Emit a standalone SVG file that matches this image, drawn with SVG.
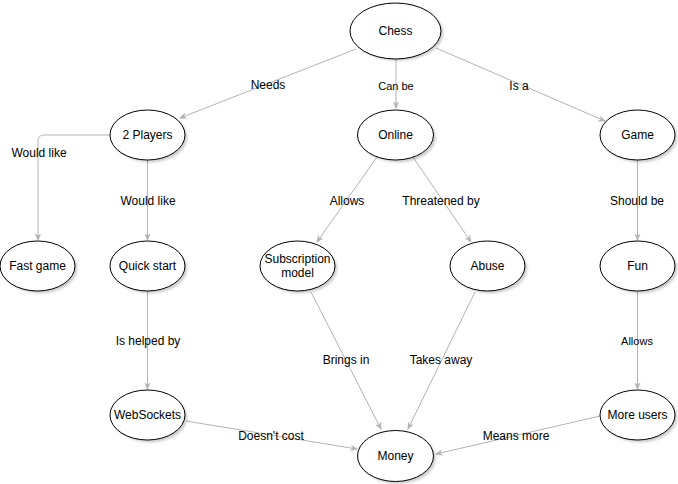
<svg xmlns="http://www.w3.org/2000/svg" width="678" height="484" viewBox="0 0 678 484">
<style>
.n ellipse.b{fill:#fff;stroke:#000;stroke-width:1}
.n ellipse.s{fill:#000;opacity:0.18}
text{font-family:"Liberation Sans",Arial,sans-serif;font-size:12px;fill:#000;text-anchor:middle;dominant-baseline:central}
.sm{font-size:11px}
.e path{fill:none;stroke:#b3b3b3;stroke-width:1;marker-end:url(#a)}
</style>
<defs>
<marker id="a" viewBox="0 0 10 10" refX="9" refY="5" markerWidth="7" markerHeight="7" orient="auto" markerUnits="userSpaceOnUse">
<path d="M0,1 L10,5 L0,9 L3,5 Z" fill="#b3b3b3" stroke="#b3b3b3" stroke-width="0.5"/>
</marker>
<filter id="bl" x="-20%" y="-20%" width="140%" height="140%"><feGaussianBlur stdDeviation="0.8"/></filter>
</defs>
<rect width="678" height="484" fill="#fff"/>
<g id="connectors" class="e">
<path d="M356,49 L180,118"/>
<path d="M396,59 L396,108"/>
<path d="M436,48 L605,121"/>
<path d="M110,135 L44,135 Q38,135 38,141 L38,240"/>
<path d="M147.5,160 L147.5,240"/>
<path d="M377,157 L317,242"/>
<path d="M413,157 L471,242"/>
<path d="M637.5,160 L637.5,240"/>
<path d="M147.5,291 L147.5,389"/>
<path d="M311,292 L381,429"/>
<path d="M475,292 L408,429"/>
<path d="M637.5,291 L637.5,389"/>
<path d="M186,421 L357,449"/>
<path d="M600,416 L436,454"/>
</g>
<g id="labels">
<text x="268" y="85">Needs</text>
<text x="396" y="86" class="sm">Can be</text>
<text x="519" y="86">Is a</text>
<text x="39" y="153">Would like</text>
<text x="148" y="201">Would like</text>
<text x="347" y="201">Allows</text>
<text x="441" y="201">Threatened by</text>
<text x="637" y="201">Should be</text>
<text x="148" y="341">Is helped by</text>
<text x="346" y="360">Brings in</text>
<text x="441" y="360">Takes away</text>
<text x="637" y="341" class="sm">Allows</text>
<text x="271" y="436">Doesn't cost</text>
<text x="516" y="436">Means more</text>
</g>
<g id="chess" class="n"><ellipse class="s" cx="398" cy="33" rx="45.5" ry="28" filter="url(#bl)"/><ellipse class="b" cx="395.5" cy="31" rx="45.5" ry="28"/><text x="395.5" y="31">Chess</text></g>
<g id="players" class="n"><ellipse class="s" cx="150" cy="137.5" rx="37.5" ry="25" filter="url(#bl)"/><ellipse class="b" cx="147.5" cy="135" rx="37.5" ry="25"/><text x="147.5" y="135">2 Players</text></g>
<g id="online" class="n"><ellipse class="s" cx="398" cy="137.5" rx="38" ry="25" filter="url(#bl)"/><ellipse class="b" cx="395.5" cy="135" rx="38" ry="25"/><text x="395.5" y="135">Online</text></g>
<g id="game" class="n"><ellipse class="s" cx="640" cy="137.5" rx="37.5" ry="25" filter="url(#bl)"/><ellipse class="b" cx="637.5" cy="135" rx="37.5" ry="25"/><text x="637.5" y="135">Game</text></g>
<g id="fastgame" class="n"><ellipse class="s" cx="40" cy="268.5" rx="37.5" ry="25" filter="url(#bl)"/><ellipse class="b" cx="37.5" cy="266" rx="37.5" ry="25"/><text x="37.5" y="266">Fast game</text></g>
<g id="quickstart" class="n"><ellipse class="s" cx="150" cy="268.5" rx="37.5" ry="25" filter="url(#bl)"/><ellipse class="b" cx="147.5" cy="266" rx="37.5" ry="25"/><text x="147.5" y="266">Quick start</text></g>
<g id="subscription" class="n"><ellipse class="s" cx="300" cy="268.5" rx="37.5" ry="25" filter="url(#bl)"/><ellipse class="b" cx="297.5" cy="266" rx="37.5" ry="25"/><text x="297.5" y="259">Subscription</text><text x="297.5" y="273">model</text></g>
<g id="abuse" class="n"><ellipse class="s" cx="490" cy="268.5" rx="37.5" ry="25" filter="url(#bl)"/><ellipse class="b" cx="487.5" cy="266" rx="37.5" ry="25"/><text x="487.5" y="266">Abuse</text></g>
<g id="fun" class="n"><ellipse class="s" cx="640" cy="268.5" rx="37.5" ry="25" filter="url(#bl)"/><ellipse class="b" cx="637.5" cy="266" rx="37.5" ry="25"/><text x="637.5" y="266">Fun</text></g>
<g id="websockets" class="n"><ellipse class="s" cx="150" cy="417.5" rx="37.5" ry="25" filter="url(#bl)"/><ellipse class="b" cx="147.5" cy="415" rx="37.5" ry="25"/><text x="147.5" y="415">WebSockets</text></g>
<g id="money" class="n"><ellipse class="s" cx="398" cy="458.5" rx="38" ry="25.5" filter="url(#bl)"/><ellipse class="b" cx="395.5" cy="456" rx="38" ry="25.5"/><text x="395.5" y="456">Money</text></g>
<g id="moreusers" class="n"><ellipse class="s" cx="640" cy="417.5" rx="37.5" ry="25" filter="url(#bl)"/><ellipse class="b" cx="637.5" cy="415" rx="37.5" ry="25"/><text x="637.5" y="415">More users</text></g>
</svg>
